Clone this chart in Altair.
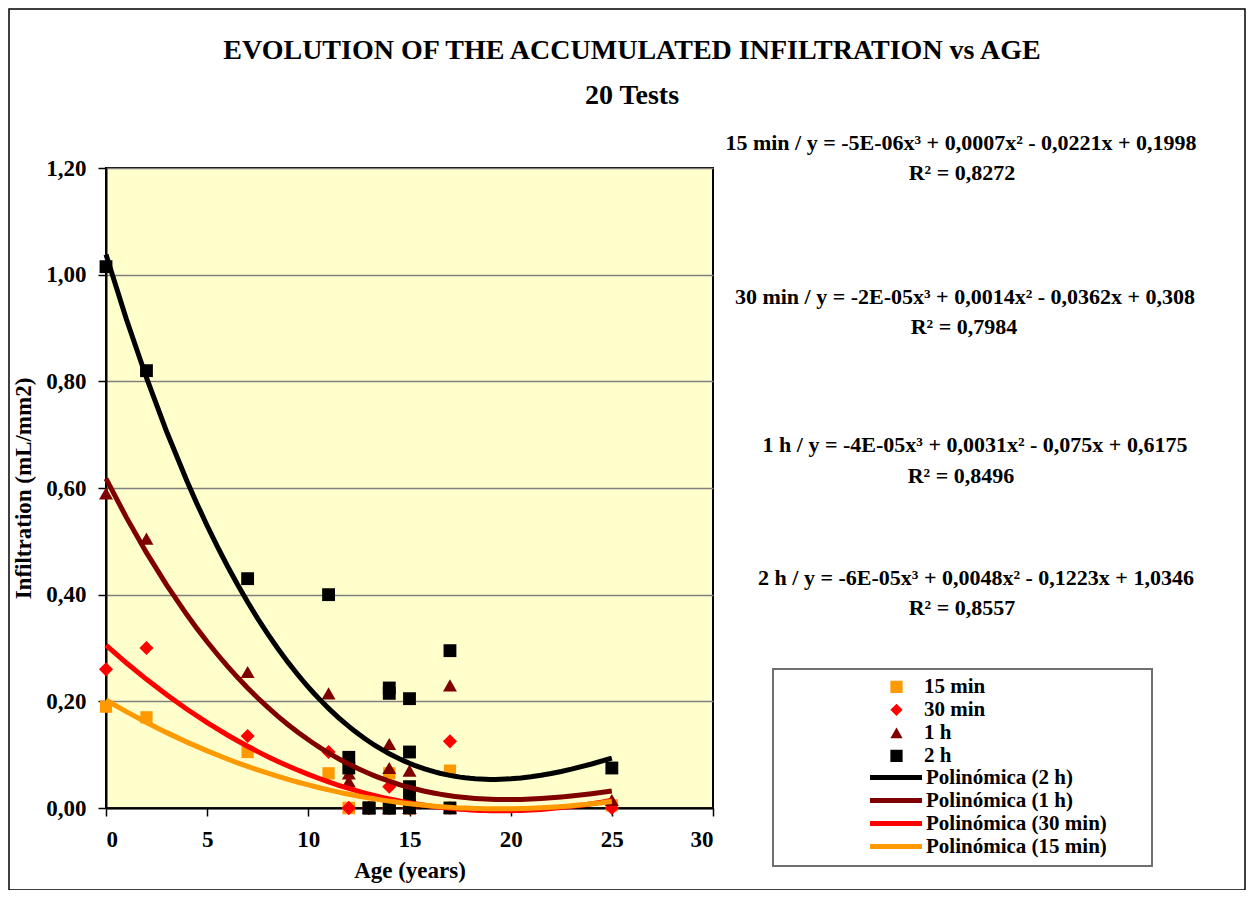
import altair as alt
import pandas as pd

# ---- data ----
ages = [0, 2, 7, 11, 12, 12, 13, 13, 14, 14, 14, 14, 15, 15, 15, 15, 15, 17, 17, 25]
inf_15min = [0.19, 0.17, 0.105, 0.065, 0.0, 0.0, 0.0, 0.0, 0.065, 0.0, 0.0, 0.0, 0.0, 0.0, 0.0, 0.0, 0.0, 0.07, 0.0, 0.005]
inf_30min = [0.26, 0.30, 0.135, 0.105, 0.0, 0.0, 0.0, 0.0, 0.04, 0.0, 0.0, 0.0, 0.0, 0.0, 0.0, 0.0, 0.0, 0.125, 0.0, 0.0]
inf_1h = [0.59, 0.505, 0.255, 0.215, 0.065, 0.05, 0.0, 0.0, 0.12, 0.075, 0.0, 0.0, 0.07, 0.0, 0.0, 0.0, 0.0, 0.23, 0.0, 0.015]
inf_2h = [1.015, 0.82, 0.43, 0.40, 0.095, 0.075, 0.0, 0.0, 0.225, 0.215, 0.0, 0.0, 0.205, 0.105, 0.04, 0.02, 0.0, 0.295, 0.0, 0.075]

series_names = ["15 min", "30 min", "1 h", "2 h"]
series_colors = ["#FF9900", "#FF0000", "#800000", "#000000"]
series_shapes = ["square", "diamond", "triangle-up", "square"]
series_sizes = [150, 200, 195, 165]

fit_names = ["Polinómica (2 h)", "Polinómica (1 h)", "Polinómica (30 min)", "Polinómica (15 min)"]
fit_colors = ["#000000", "#800000", "#FF0000", "#FF9900"]
fit_series = ["2 h", "1 h", "30 min", "15 min"]

x_ticks = [0, 5, 10, 15, 20, 25, 30]
y_ticks = [0, 0.2, 0.4, 0.6, 0.8, 1.0, 1.2]

title_lines = ["EVOLUTION OF THE ACCUMULATED INFILTRATION vs AGE", "20 Tests"]
equations = [
    "15 min / y = -5E-06x³ + 0,0007x² - 0,0221x + 0,1998",
    "30 min / y = -2E-05x³ + 0,0014x² - 0,0362x + 0,308",
    "1 h / y = -4E-05x³ + 0,0031x² - 0,075x + 0,6175",
    "2 h / y = -6E-05x³ + 0,0048x² - 0,1223x + 1,0346",
]
r2_texts = ["R² = 0,8272", "R² = 0,7984", "R² = 0,8496", "R² = 0,8557"]

FONT = "Liberation Serif"

rows = []
for name, vals in zip(series_names, [inf_15min, inf_30min, inf_1h, inf_2h]):
    for a, v in zip(ages, vals):
        rows.append({"age": a, "value": v, "series": name})
df = pd.DataFrame(rows)

x_enc = alt.X(
    "age:Q",
    scale=alt.Scale(domain=[0, 30], nice=False),
    axis=alt.Axis(values=x_ticks, title="Age (years)", grid=False, tickSize=8,
                  labelPadding=12, titlePadding=8),
)
y_enc = alt.Y(
    "value:Q",
    scale=alt.Scale(domain=[0, 1.2], nice=False),
    axis=alt.Axis(values=y_ticks, title="Infiltration (mL/mm2)", grid=True,
                  labelExpr="replace(format(datum.value, '.2f'), '.', ',')",
                  tickSize=8, labelPadding=12, titlePadding=10),
)

base = alt.Chart(df)

# legend box (drawn behind legends)
legend_box = alt.Chart(pd.DataFrame({"k": [0]})).mark_rect(
    fill="white", stroke="#707070", strokeWidth=2
).encode(x=alt.value(667), x2=alt.value(1046), y=alt.value(501), y2=alt.value(698))

outer_border = alt.Chart(pd.DataFrame({"k": [0]})).mark_rect(
    fill=None, stroke="#000000", strokeWidth=1.5
).encode(x=alt.value(-97), x2=alt.value(1139), y=alt.value(-159), y2=alt.value(722))

point_legend = alt.Legend(
    title=None, orient="none", legendX=780, legendY=507.6,
    symbolSize=150, symbolStrokeWidth=0, labelOffset=17, labelLimit=300,
    labelFont=FONT, labelFontSize=21, labelFontWeight="bold", labelColor="black",
    clipHeight=22.5, rowPadding=0, padding=0,
)

point_layers = []
for s, sz in zip(series_names, series_sizes):
    p = base.transform_filter(alt.datum.series == s).mark_point(
        filled=True, opacity=1, size=sz
    ).encode(
        x=x_enc,
        y=y_enc,
        fill=alt.Fill("series:N", scale=alt.Scale(domain=series_names, range=series_colors),
                      legend=point_legend),
        shape=alt.Shape("series:N", scale=alt.Scale(domain=series_names, range=series_shapes),
                        legend=point_legend),
    )
    point_layers.append(p)

line_legend = alt.Legend(
    title=None, orient="none", legendX=761.5, legendY=598,
    symbolType="stroke", symbolSize=2704, symbolStrokeWidth=5, labelOffset=1.5,
    labelLimit=300,
    labelFont=FONT, labelFontSize=21, labelFontWeight="bold", labelColor="black",
    clipHeight=23, rowPadding=0, padding=0,
)

line_layers = []
for s, fname in zip(fit_series, fit_names):
    ln = base.transform_filter(
        alt.datum.series == s
    ).transform_regression(
        "age", "value", method="poly", order=3, extent=[0, 25]
    ).transform_calculate(
        fit=f'"{fname}"'
    ).mark_line(strokeWidth=5).encode(
        x="age:Q",
        y="value:Q",
        stroke=alt.Stroke("fit:N", scale=alt.Scale(domain=fit_names, range=fit_colors),
                          legend=line_legend),
    )
    line_layers.append(ln)


def label(text, x, y, size, dx_align="center"):
    return alt.Chart(pd.DataFrame({"t": [text]})).mark_text(
        font=FONT, fontSize=size, fontWeight="bold", color="black",
        align=dx_align, baseline="middle",
    ).encode(text="t:N", x=alt.value(x), y=alt.value(y))


texts = [
    label(title_lines[0], 526, -117, 28),
    label(title_lines[1], 526, -72, 28),
    label(equations[0], 855, -25, 22),
    label(r2_texts[0], 856, 5, 22),
    label(equations[1], 859, 129, 22),
    label(r2_texts[1], 858, 159, 22),
    label(equations[2], 869, 277, 22),
    label(r2_texts[2], 855, 308, 22),
    label(equations[3], 870, 410, 22),
    label(r2_texts[3], 856, 440, 22),
]

chart = alt.layer(
    outer_border, legend_box, *point_layers, *line_layers, *texts
).properties(
    width=607, height=640,
    autosize=alt.AutoSizeParams(type="none"),
    padding={"left": 98, "top": 160, "right": 533, "bottom": 82},
    background="white",
).configure_view(
    fill="#FFFFCC", stroke="black", strokeWidth=2
).configure_axis(
    labelFont=FONT, labelFontSize=23, labelFontWeight="bold", labelColor="black",
    titleFont=FONT, titleFontSize=23, titleFontWeight="bold", titleColor="black",
    domainColor="black", domainWidth=2, tickColor="black", tickWidth=1.5,
    gridColor="#808080", gridWidth=1.5,
)

chart.save("out.html", embed_options={"renderer": "svg", "actions": False})
